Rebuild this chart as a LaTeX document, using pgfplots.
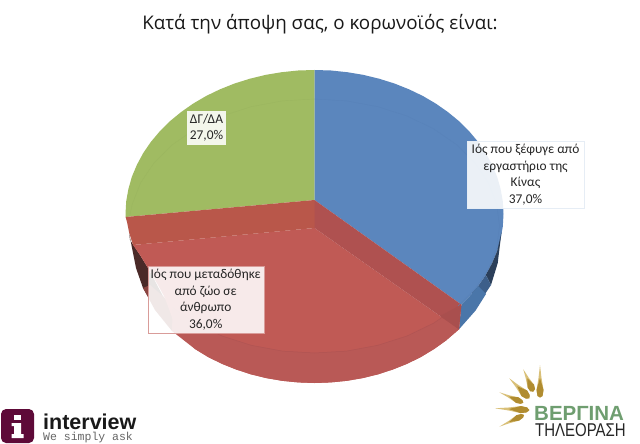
\documentclass[border=0pt]{standalone}
\usepackage{pgfplots}
\usepackage{fontspec}
\pgfplotsset{compat=1.18}
\setmainfont{Carlito}
\newfontfamily\titlefont{Open Sans}
\newfontfamily\arialf{Liberation Sans}
\newfontfamily\monof{Liberation Mono}
\definecolor{cblue}{HTML}{5B86BD}
\definecolor{cbluer}{HTML}{5882B9}
\definecolor{cgreen}{HTML}{A0BB62}
\definecolor{cgreenr}{HTML}{9BB65F}
\definecolor{cred}{HTML}{C05A55}
\definecolor{credb}{HTML}{B95956}
\definecolor{credl}{HTML}{B05453}
\definecolor{credr}{HTML}{A94F4E}
\definecolor{cbandl}{HTML}{B9574A}
\definecolor{cbandr}{HTML}{AF5150}
\definecolor{maroon}{HTML}{5E0A38}
\definecolor{goldt}{HTML}{D9C078}
\definecolor{goldd}{HTML}{B08C30}
\definecolor{verg}{HTML}{6F9E70}
\definecolor{sidea}{HTML}{2B3F5A}
\definecolor{sideb}{HTML}{3D5F8A}
\definecolor{sidec}{HTML}{4A76A9}
\definecolor{shada}{HTML}{4A2A28}
\definecolor{shadb}{HTML}{8A4440}
\tikzset{lab/.style={fill=white,fill opacity=0.88,text opacity=1,inner sep=0pt,align=center,
   font=\fontsize{13.4}{16.7}\selectfont,text=black!85}}
\begin{document}
\begin{tikzpicture}
\begin{axis}[at={(0,0)},anchor=south west,width=640pt,height=444pt,scale only axis,
  xmin=0,xmax=640,ymin=0,ymax=444,y dir=reverse,axis line style={draw=none},ticks=none]
\addplot[fill=white,draw=none] coordinates {(0,0)(640,0)(640,444)(0,444)} --cycle;
% green slice
\addplot[fill=cgreen,draw=none] coordinates {(314.5,200)(314.5,70)(298,70.5)(281.7,72.2)(265.6,74.9)(249.9,78.7)(234.6,83.5)(220,89.3)(206.1,96)(193,103.7)(180.9,112.2)(169.7,121.4)(159.7,131.4)(150.8,142)(143.2,153.1)(136.9,164.8)(131.9,176.7)(128.4,189)(126.2,201.4)(125.5,214)(125.6,217)} --cycle;
% blue slice
\addplot[fill=cblue,draw=none] coordinates {(314.5,200)(314.5,70)(331,70.5)(347.3,72.2)(363.4,74.9)(379.1,78.7)(394.4,83.5)(409,89.3)(422.9,96)(436,103.7)(448.1,112.2)(459.3,121.4)(469.3,131.4)(478.2,142)(485.8,153.1)(492.1,164.8)(497.1,176.7)(500.6,189)(502.8,201.4)(503.5,214)(502.8,226.6)(500.6,239)(497.1,251.3)(492.1,263.2)(485.8,274.9)(478.2,286)(469.3,296.6)(461.4,304.6)} --cycle;
% blue side
\addplot[fill=sidea,draw=none] coordinates {(501.5,232)(497.1,251.3)(492.1,263.2)(485.8,274.9)(491,285)(497.7,263.2)} --cycle;
\addplot[fill=sideb,draw=none] coordinates {(485.8,274.9)(478.2,286)(472,293)(481,300)(489.3,287.6)(491,285)} --cycle;
\addplot[fill=sidec,draw=none] coordinates {(478.2,286)(469.3,296.6)(461.4,304.6)(459,329.3)(475.6,310.5)(486,294)} --cycle;
% left shadow
\addplot[fill=shada,draw=none] coordinates {(129,232)(132,248)(136,268)(143,288)(150,300)(165,300)(148,268)(140,255)(130,240)} --cycle;
\addplot[fill=shadb,draw=none] coordinates {(143,288)(155,310)(172,331)(180,325)(165,298)(150,285)} --cycle;
% red top
\addplot[fill=cred,draw=none] coordinates {(314.5,228)(133,245)(140,255)(148,268)(158,285)(165,298)(176,328)(195,349)(207.8,356.8)(221.5,363.6)(235.9,369.4)(250.9,374.3)(266.4,378.1)(282.2,380.8)(298.3,382.4)(314.5,383)(330.7,382.4)(346.8,380.8)(362.6,378.1)(378.1,374.3)(393.1,369.4)(407.5,363.6)(421.2,356.8)(434.1,349)(446,340.5)(459,329.3)} --cycle;
% red lower bevel
\addplot[fill=credb,draw=none] coordinates {(172.8,307.6)(195.6,323.3)(222,336)(251.2,345.3)(282.4,351.1)(314.5,353)(346.6,351.1)(377.8,345.3)(407,336)(433.4,323.3)(450,312)(459,329.3)(446,340.5)(434.1,349)(421.2,356.8)(407.5,363.6)(393.1,369.4)(378.1,374.3)(362.6,378.1)(346.8,380.8)(330.7,382.4)(314.5,383)(298.3,382.4)(282.2,380.8)(266.4,378.1)(250.9,374.3)(235.9,369.4)(221.5,363.6)(207.8,356.8)(195,349)(172,331)} --cycle;
\addplot[draw=credl,line width=0.5pt] coordinates {(172.8,307.6)(195.6,323.3)(222,336)(251.2,345.3)(282.4,351.1)(314.5,353)(346.6,351.1)(377.8,345.3)(407,336)(433.4,323.3)(450,312)};
% red bands
\addplot[fill=cbandl,draw=none] coordinates {(314.5,200)(125.6,217)(127,222)(129,232)(133,245)(314.5,228)(320,225)(320,210)} --cycle;
\addplot[fill=cbandr,draw=none] coordinates {(314.5,200)(461.4,304.6)(459,329.3)(314.5,228)} --cycle;
\addplot[fill=credr,draw=none] coordinates {(461.4,304.6)(459,329.3)(440,316)} --cycle;
% faint ridges
\addplot[draw=cbluer,line width=0.4pt] coordinates {(314.5,99)(346.6,100.9)(377.8,106.7)(407,116)(433.4,128.7)(456.2,144.4)(474.7,162.5)(488.3,182.6)(496.7,204)(499.5,226)(496.7,248)(488.3,269.4)(474.7,289.5)(458.2,306)};
\addplot[draw=cgreenr,line width=0.4pt] coordinates {(314.5,99)(282.4,100.9)(251.2,106.7)(222,116)(195.6,128.7)(172.8,144.4)(154.3,162.5)(140.7,182.6)(132.3,204)(129.7,216)};
% title
\node[anchor=base,font=\titlefont\fontsize{18.8}{22}\selectfont,text=black!90,inner sep=0pt] at (axis cs:320,29.5) {Κατά την άποψη σας, ο κορωνοϊός είναι:};
% labels
\node[lab,draw=cblue!15,minimum width=117pt,minimum height=67pt] at (axis cs:525.5,174.5) {Ιός που ξέφυγε από\\εργαστήριο της\\Κίνας\\37,0\%};
\node[lab,draw=cred!60,minimum width=116pt,minimum height=67.6pt] at (axis cs:205.7,299.5) {Ιός που μεταδόθηκε\\από ζώο σε\\άνθρωπο\\36,0\%};
\node[lab,minimum width=38.4pt,minimum height=34pt] at (axis cs:206.5,127.7) {ΔΓ/ΔΑ\\27,0\%};
% interview logo
\addplot[fill=maroon,draw=none] coordinates {(6,409)(29,409)(32.5,410.5)(34,414)(34,438)(32.5,441.5)(29,443)(6,443)(2.5,441.5)(1,438)(1,414)(2.5,410.5)} --cycle;
\addplot[fill=white,draw=none] coordinates {(14,414.5)(21,414.5)(21,420)(14,420)} --cycle;
\addplot[fill=white,draw=none] coordinates {(11.5,423)(21,423)(21,434)(23.5,434)(23.5,438)(11.5,438)(11.5,434)(14,434)(14,426)(11.5,426)} --cycle;
\node[anchor=base west,inner sep=0pt,font=\arialf\bfseries\fontsize{21.5}{22}\selectfont,text=black!90] at (axis cs:43,429.5) {interview};
\node[anchor=base west,inner sep=0pt,font=\monof\fontsize{11.5}{12}\selectfont,text=black!60] at (axis cs:43,440) {We simply ask};
% Vergina rays
\addplot[fill=goldt,draw=none] coordinates {(540,365)(538.5,378)(536.5,390)(537.5,396)(540,397.5)(542.5,396)(543.5,390)(541.5,378)} --cycle;
\addplot[fill=goldd,draw=none] coordinates {(540,378)(536.5,390)(537.5,396)(540,397.5)(542.5,396)(543.5,390)} --cycle;
\addplot[fill=goldt,draw=none] coordinates {(523.3,369.3)(528.7,377.7)(534,384.7)(535,389)(533.3,391.7)(530.2,391.2)(527.6,387.5)(525.9,378.9)} --cycle;
\addplot[fill=goldd,draw=none] coordinates {(527.3,378.3)(534,384.7)(535,389)(533.3,391.7)(530.2,391.2)(527.6,387.5)} --cycle;
\addplot[fill=goldt,draw=none] coordinates {(509.3,378.3)(518.5,385.1)(527.1,390.5)(529.7,395.1)(529.3,398.3)(526.1,398.7)(521.5,396.1)(516.1,387.5)} --cycle;
\addplot[fill=goldd,draw=none] coordinates {(517.3,386.3)(527.1,390.5)(529.7,395.1)(529.3,398.3)(526.1,398.7)(521.5,396.1)} --cycle;
\addplot[fill=goldt,draw=none] coordinates {(499.3,392.3)(509.4,395.4)(518.5,397.3)(522.4,400.2)(523.3,402.7)(520.8,403.8)(516.1,402.9)(508.4,397.6)} --cycle;
\addplot[fill=goldd,draw=none] coordinates {(508.9,396.5)(518.5,397.3)(522.4,400.2)(523.3,402.7)(520.8,403.8)(516.1,402.9)} --cycle;
\addplot[fill=goldt,draw=none] coordinates {(495,408.3)(508.7,407.5)(520.9,406.1)(527,407.4)(529.3,410)(526.8,412.4)(520.5,413.1)(508.7,410.5)} --cycle;
\addplot[fill=goldd,draw=none] coordinates {(508.7,409)(520.9,406.1)(527,407.4)(529.3,410)(526.8,412.4)(520.5,413.1)} --cycle;
\addplot[fill=goldt,draw=none] coordinates {(499.3,426.7)(508.7,420.9)(516.5,415.2)(521.5,414)(524,415)(523.1,417.6)(519.1,420.6)(509.7,423.1)} --cycle;
\addplot[fill=goldd,draw=none] coordinates {(509.2,422)(516.5,415.2)(521.5,414)(524,415)(523.1,417.6)(519.1,420.6)} --cycle;
\node[anchor=base west,inner sep=0pt,font=\arialf\bfseries\fontsize{20.5}{20.5}\selectfont,text=verg] at (axis cs:534,420) {ΒΕΡΓΙΝΑ};
\node[anchor=base west,inner sep=0pt,font=\arialf\fontsize{18.5}{18.5}\selectfont,text=black!85,xscale=0.81] at (axis cs:535,436) {ΤΗΛΕΟΡΑΣΗ};
\end{axis}
\end{tikzpicture}
\end{document}
